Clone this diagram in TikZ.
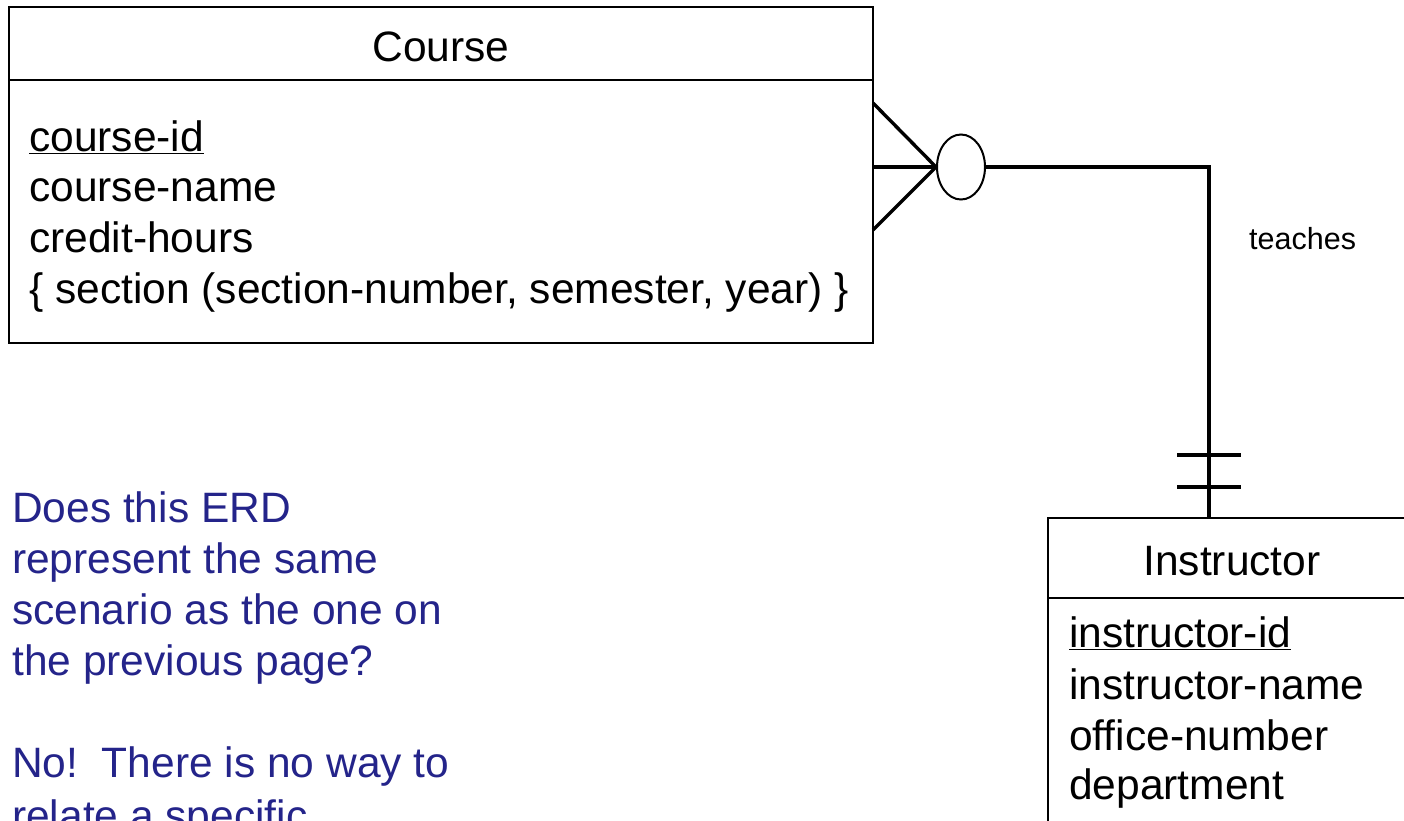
\documentclass[tikz,border=0pt]{standalone}
\usepackage{fontspec}
\setmainfont{Liberation Sans}
\usetikzlibrary{shapes.geometric}
\definecolor{qblue}{RGB}{36,36,138}
\tikzset{
  box/.style={draw, line width=2pt, inner sep=0pt},
  big/.style={font=\fontsize{42.5}{50}\selectfont, inner sep=0pt, anchor=base west},
  title/.style={font=\fontsize{42.5}{50}\selectfont, inner sep=0pt, anchor=base},
  conn/.style={line width=3.4pt},
  q/.style={big, text=qblue},
}
\begin{document}
\begin{tikzpicture}[x=1pt,y=-1pt]
\useasboundingbox (0,0) rectangle (1404,820);
\clip (0,0) rectangle (1404,820);
\fill[white] (0,0) rectangle (1404,820);
% Course entity
\node[box, minimum width=864pt, minimum height=336pt] (course) at (441,175) {};
\draw[line width=2pt] (9,80) -- (873,80);
\node[title] (ctitle) at (441,61) {Course};
\node[big] (c1) at (29,151) {\underline{course-id}};
\node[big] (c2) at (29,201) {course-name};
\node[big] (c3) at (29,252) {credit-hours};
\node[big] (c4) at (29,303) {\{ section (section-number, semester, year) \}};
% Instructor entity
\node[box, minimum width=368pt, minimum height=382pt] (inst) at (1232,709) {};
\draw[line width=2pt] (1048,598) -- (1416,598);
\node[title] (ititle) at (1232,575) {Instructor};
\node[big] (i1) at (1069,647) {\underline{instructor-id}};
\node[big] (i2) at (1069,699) {instructor-name};
\node[big] (i3) at (1069,750) {office-number};
\node[big] (i4) at (1069,799) {department};
% optional circle
\node[draw, ellipse, line width=2pt, minimum width=48pt, minimum height=65pt, inner sep=0pt] (opt) at (961,167) {};
% crow's foot
\coordinate (cfA) at (873,103);
\coordinate (cfB) at (873,167);
\coordinate (cfC) at (873,230);
\draw[conn] (cfA) -- (opt.west);
\draw[conn] (cfB) -- (opt.west);
\draw[conn] (cfC) -- (opt.west);
% relationship line
\coordinate (itop) at (1209,518);
\coordinate (corner) at (1209,167);
\draw[conn, line join=miter] (opt.east) -- (corner) -- (itop);
\draw[conn] (1177,455) -- (1241,455);
\draw[conn] (1177,487) -- (1241,487);
\node[font=\fontsize{30.5}{36}\selectfont, inner sep=0pt, anchor=base west] (teaches) at (1249,249) {teaches};
% question text
\node[q] (q1) at (12,522) {Does this ERD};
\node[q] (q2) at (12,573) {represent the same};
\node[q] (q3) at (12,624) {scenario as the one on};
\node[q] (q4) at (12,675) {the previous page?};
\node[q] (q5) at (12,777) {No!\ \ There is no way to};
\node[q] (q6) at (12,830) {relate a specific};
\end{tikzpicture}
\end{document}
